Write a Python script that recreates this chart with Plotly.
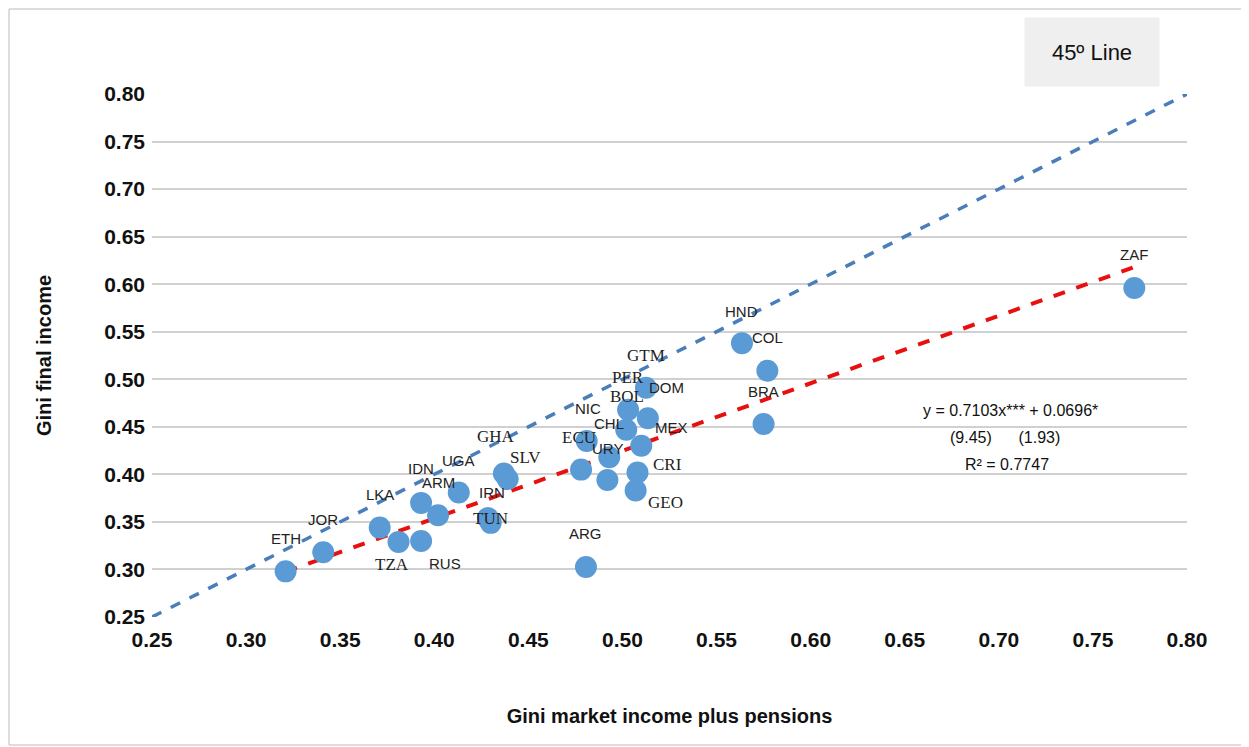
import plotly.graph_objects as go

countries = ["ETH","JOR","LKA","TZA","RUS","IDN","ARM","UGA","GHA","SLV","IRN","TUN","ARG","ECU","NIC","CHL","URY","PER","GTM","BOL","DOM","MEX","CRI","GEO","HND","COL","BRA","ZAF"]
gini_market = [0.321,0.341,0.371,0.381,0.393,0.393,0.402,0.413,0.437,0.439,0.4285,0.430,0.4806,0.478,0.481,0.493,0.492,0.503,0.5125,0.502,0.5135,0.510,0.508,0.507,0.5635,0.577,0.575,0.772]
gini_final = [0.298,0.318,0.344,0.329,0.330,0.370,0.357,0.381,0.401,0.395,0.354,0.349,0.3026,0.405,0.435,0.418,0.394,0.468,0.491,0.447,0.459,0.430,0.402,0.383,0.538,0.509,0.453,0.596]
label_dx = [0,0,0,-7,24,0,0,0,-8,18,4,0,0,-2,1,0,0,0,0,1,19,30,30,30,0,0,0,0]
label_dy = [-33,-33,-33,23,23,-34,-33,-32,-37,-22,-26,-4,-33,-32,-33,-34,-32,-32,-32,-33,-31,-18,-8,12,-32,-33,-32,-33]
serif = {"TZA","GHA","SLV","TUN","ECU","PER","GTM","BOL","CRI","GEO"}
slope, intercept = 0.7103, 0.0696

L, T, W, H = 144, 86, 1035, 523

fig = go.Figure()
fig.add_trace(go.Scatter(x=[0.25,0.80], y=[0.25,0.80], mode="lines",
    line=dict(color="#4a7ebb", width=3.5, dash="dash"), hoverinfo="skip"))
xmin, xmax = min(gini_market), max(gini_market)
fig.add_trace(go.Scatter(x=[xmin,xmax], y=[slope*xmin+intercept, slope*xmax+intercept], mode="lines",
    line=dict(color="#e8100f", width=4, dash="dash"), hoverinfo="skip"))
fig.add_trace(go.Scatter(x=gini_market, y=gini_final, mode="markers",
    marker=dict(size=22, color="#5b9bd5")))
for c,x,y,dx,dy in zip(countries,gini_market,gini_final,label_dx,label_dy):
    fig.add_annotation(x=x,y=y,text=c,showarrow=False,xshift=dx,yshift=-dy,xanchor="center",yanchor="middle",
        font=dict(family="Liberation Serif" if c in serif else "Liberation Sans",
                  size=17 if c in serif else 15, color="#222"))
for txt,xp,yp in [("y = 0.7103x*** + 0.0696*",1010,410),("(9.45)      (1.93)",1005,437),("R² = 0.7747",1007,465)]:
    fig.add_annotation(xref="paper",yref="paper",x=(xp-152)/W,y=(617-yp)/H,text=txt,xanchor="center",yanchor="middle",
        showarrow=False,font=dict(family="Liberation Sans",size=16,color="#111"))
fig.add_annotation(xref="paper",yref="paper",x=(1092-152)/W,y=(617-52)/H,text="45º Line",xanchor="center",yanchor="middle",
    showarrow=False,bgcolor="#efefef",width=132,height=66,font=dict(family="Liberation Sans",size=22,color="#111"))
fig.add_shape(type="rect",xref="paper",yref="paper",x0=(9-152)/W,x1=(1246-152)/W,y0=-(745-617)/H,y1=(617-9)/H,
    line=dict(color="#bbbbbb",width=1))
ax = dict(range=[0.25,0.80], dtick=0.05, tickformat=".2f", showline=False, zeroline=False,
    tickfont=dict(family="Liberation Sans",size=21,color="#111",weight="bold"))
fig.update_xaxes(**ax, showgrid=False, ticks="", ticklabelstandoff=8, title=dict(text="Gini market income plus pensions",
    font=dict(family="Liberation Sans",size=20,color="#111",weight="bold"), standoff=58))
fig.update_yaxes(**ax, showgrid=True, gridcolor="#d0d0d0", gridwidth=1.5, ticklabelstandoff=6, title=dict(text="Gini final income",
    font=dict(family="Liberation Sans",size=20,color="#111",weight="bold"), standoff=47))
fig.update_layout(width=1249,height=747,margin=dict(l=L,r=1249-L-W,t=T,b=747-T-H,autoexpand=False),showlegend=False,
    plot_bgcolor="white",paper_bgcolor="white")
fig.write_html("out.html")
